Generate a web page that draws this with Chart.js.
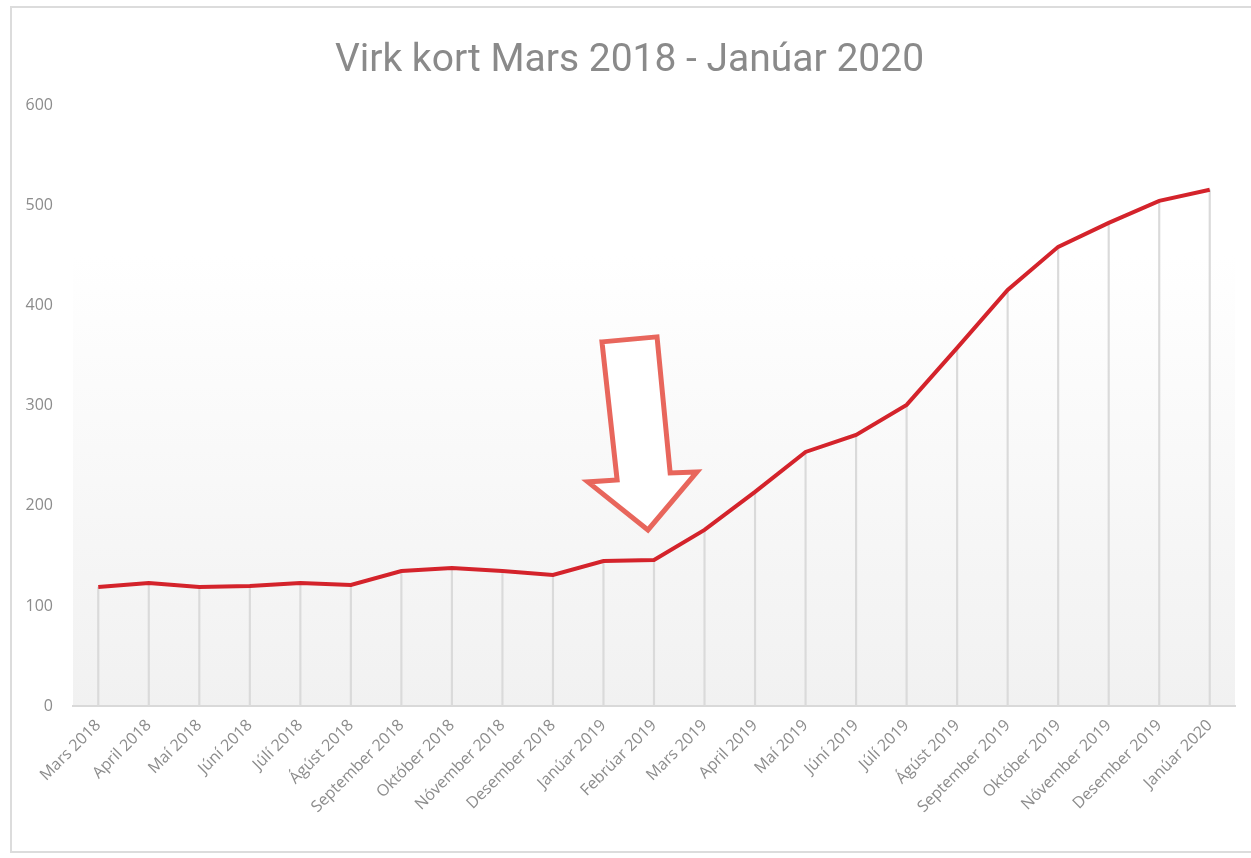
<!DOCTYPE html>
<html>
<head>
<meta charset="utf-8">
<script src="https://cdn.jsdelivr.net/npm/chart.js@4/dist/chart.umd.min.js"></script>
<style>
    html, body { margin: 0; padding: 0; background: #fff; overflow: hidden; }
    #frame {
        position: absolute; left: 10px; top: 6px; width: 1260px; height: 847px;
        border: 2px solid #dcdcdc; box-sizing: border-box;
    }
    #chart { position: absolute; left: 0; top: 0; }
</style>
</head>
<body>
<div id="frame"></div>
<canvas id="chart" width="1251" height="858"></canvas>
<script>
// month labels
const months = [
    'Mars 2018', 'April 2018', 'Maí 2018', 'Júní 2018', 'Júlí 2018', 'Ágúst 2018',
    'September 2018', 'Október 2018', 'Nóvember 2018', 'Desember 2018',
    'Janúar 2019', 'Febrúar 2019', 'Mars 2019', 'April 2019', 'Maí 2019', 'Júní 2019',
    'Júlí 2019', 'Ágúst 2019', 'September 2019', 'Október 2019', 'Nóvember 2019',
    'Desember 2019', 'Janúar 2020'
];

// active cards per month
const cards = [
    119, 123, 119, 120, 123, 121, 135, 138, 135, 131, 145, 146,
    176, 214, 254, 271, 301, 358, 416, 459, 483, 505, 516
];

const yTicks = [0, 100, 200, 300, 400, 500, 600];

// arrow outline, in [category index, value]
const arrowShape = [
    [9.97, 364], [11.06, 369], [11.32, 233], [11.85, 234],
    [10.88, 176], [9.69, 224], [10.27, 226]
];

const tickColor = '#8c8c8c';

// light gray fading in toward the bottom of the plot
let plotBackground = {
    id: 'plotBackground',
    beforeDraw(chart) {
        let a = chart.chartArea, ctx = chart.ctx;
        let g = ctx.createLinearGradient(0, a.top, 0, a.bottom);
        g.addColorStop(0, '#ffffff');
        g.addColorStop(0.25, '#ffffff');
        g.addColorStop(1, '#f1f1f1');
        ctx.save();
        ctx.fillStyle = g;
        ctx.fillRect(a.left, a.top, a.right - a.left, a.bottom - a.top);
        ctx.restore();
    }
};

let arrow = {
    id: 'arrow',
    afterDatasetsDraw(chart) {
        let x = chart.scales.x, y = chart.scales.y, ctx = chart.ctx;
        ctx.save();
        ctx.beginPath();
        arrowShape.forEach((p, i) => {
            let px = x.getPixelForValue(p[0]), py = y.getPixelForValue(p[1]);
            if (i === 0) ctx.moveTo(px, py); else ctx.lineTo(px, py);
        });
        ctx.closePath();
        ctx.fillStyle = '#ffffff';
        ctx.fill();
        ctx.lineWidth = 5;
        ctx.lineJoin = 'miter';
        ctx.strokeStyle = '#e8665c';
        ctx.stroke();
        ctx.restore();
    }
};

let chart = new Chart(document.getElementById('chart').getContext('2d'), {
    data: {
        labels: months,
        datasets: [{
            type: 'line',
            label: 'Virk kort',
            data: cards,
            borderColor: '#d4232b',
            borderWidth: 4,
            pointRadius: 0,
            tension: 0,
            order: 0
        }, {
            // drop lines
            type: 'bar',
            label: 'drop',
            data: cards,
            backgroundColor: '#dadada',
            barThickness: 1.5,
            order: 1
        }]
    },
    options: {
        responsive: false,
        animation: false,
        events: [],
        layout: { padding: { left: 24, right: 16, top: 0, bottom: 12 } },
        plugins: {
            legend: { display: false },
            tooltip: { enabled: false },
            title: {
                display: true,
                text: 'Virk kort Mars 2018 - Janúar 2020',
                color: '#8a8a8a',
                font: { family: 'Roboto', size: 39, weight: 'normal' },
                padding: { top: 38, bottom: 21 }
            }
        },
        scales: {
            x: {
                offset: true,
                grid: { display: false },
                border: { display: true, color: '#d9d9d9', width: 2 },
                ticks: {
                    color: tickColor,
                    font: { family: 'Open Sans', size: 16 },
                    maxRotation: 45,
                    minRotation: 45,
                    autoSkip: false,
                    padding: 2
                },
                afterFit(scale) { scale.height = 140; }
            },
            y: {
                min: 0,
                max: 600,
                afterBuildTicks(scale) { scale.ticks = yTicks.map(v => ({ value: v })); },
                grid: { display: false },
                border: { display: false },
                ticks: {
                    color: tickColor,
                    font: { family: 'Open Sans', size: 16 },
                    padding: 12
                },
                afterFit(scale) { scale.width = 49; }
            }
        }
    },
    plugins: [plotBackground, arrow]
});
</script>
</body>
</html>
